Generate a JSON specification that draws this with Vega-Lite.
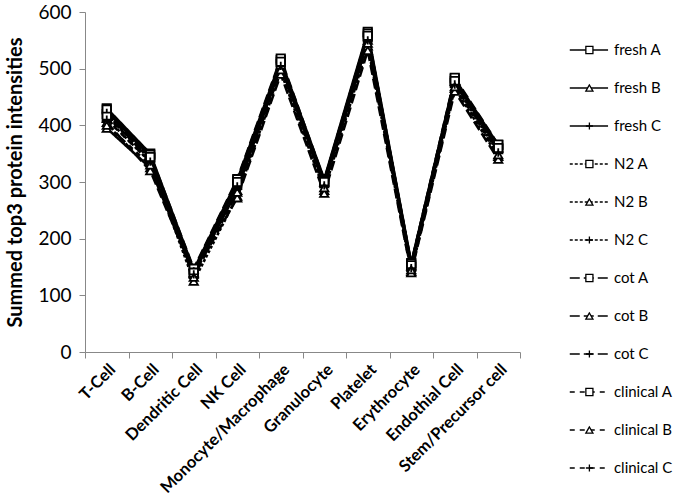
{
  "$schema": "https://vega.github.io/schema/vega-lite/v6.json",
  "padding": {"left": 5, "top": 3, "right": 0, "bottom": 0},
  "background": "white",
  "config": {"view": {"stroke": null}, "font": "Lato"},
  "spacing": 36,
  "datasets": {
    "vals": [
      {"cell":"T-Cell","series":"fresh A","value":430},{"cell":"T-Cell","series":"fresh B","value":395},{"cell":"T-Cell","series":"fresh C","value":425},{"cell":"T-Cell","series":"N2 A","value":420},{"cell":"T-Cell","series":"N2 B","value":412},{"cell":"T-Cell","series":"N2 C","value":418},{"cell":"T-Cell","series":"cot A","value":428},{"cell":"T-Cell","series":"cot B","value":405},{"cell":"T-Cell","series":"cot C","value":422},{"cell":"T-Cell","series":"clinical A","value":415},{"cell":"T-Cell","series":"clinical B","value":400},{"cell":"T-Cell","series":"clinical C","value":410},
      {"cell":"B-Cell","series":"fresh A","value":350},{"cell":"B-Cell","series":"fresh B","value":325},{"cell":"B-Cell","series":"fresh C","value":345},{"cell":"B-Cell","series":"N2 A","value":342},{"cell":"B-Cell","series":"N2 B","value":335},{"cell":"B-Cell","series":"N2 C","value":340},{"cell":"B-Cell","series":"cot A","value":348},{"cell":"B-Cell","series":"cot B","value":320},{"cell":"B-Cell","series":"cot C","value":338},{"cell":"B-Cell","series":"clinical A","value":344},{"cell":"B-Cell","series":"clinical B","value":330},{"cell":"B-Cell","series":"clinical C","value":336},
      {"cell":"Dendritic Cell","series":"fresh A","value":145},{"cell":"Dendritic Cell","series":"fresh B","value":140},{"cell":"Dendritic Cell","series":"fresh C","value":143},{"cell":"Dendritic Cell","series":"N2 A","value":138},{"cell":"Dendritic Cell","series":"N2 B","value":125},{"cell":"Dendritic Cell","series":"N2 C","value":135},{"cell":"Dendritic Cell","series":"cot A","value":147},{"cell":"Dendritic Cell","series":"cot B","value":138},{"cell":"Dendritic Cell","series":"cot C","value":142},{"cell":"Dendritic Cell","series":"clinical A","value":140},{"cell":"Dendritic Cell","series":"clinical B","value":132},{"cell":"Dendritic Cell","series":"clinical C","value":137},
      {"cell":"NK Cell","series":"fresh A","value":303},{"cell":"NK Cell","series":"fresh B","value":285},{"cell":"NK Cell","series":"fresh C","value":298},{"cell":"NK Cell","series":"N2 A","value":295},{"cell":"NK Cell","series":"N2 B","value":275},{"cell":"NK Cell","series":"N2 C","value":290},{"cell":"NK Cell","series":"cot A","value":305},{"cell":"NK Cell","series":"cot B","value":272},{"cell":"NK Cell","series":"cot C","value":296},{"cell":"NK Cell","series":"clinical A","value":300},{"cell":"NK Cell","series":"clinical B","value":282},{"cell":"NK Cell","series":"clinical C","value":292},
      {"cell":"Monocyte/Macrophage","series":"fresh A","value":515},{"cell":"Monocyte/Macrophage","series":"fresh B","value":505},{"cell":"Monocyte/Macrophage","series":"fresh C","value":512},{"cell":"Monocyte/Macrophage","series":"N2 A","value":508},{"cell":"Monocyte/Macrophage","series":"N2 B","value":495},{"cell":"Monocyte/Macrophage","series":"N2 C","value":505},{"cell":"Monocyte/Macrophage","series":"cot A","value":518},{"cell":"Monocyte/Macrophage","series":"cot B","value":490},{"cell":"Monocyte/Macrophage","series":"cot C","value":510},{"cell":"Monocyte/Macrophage","series":"clinical A","value":512},{"cell":"Monocyte/Macrophage","series":"clinical B","value":498},{"cell":"Monocyte/Macrophage","series":"clinical C","value":505},
      {"cell":"Granulocyte","series":"fresh A","value":305},{"cell":"Granulocyte","series":"fresh B","value":300},{"cell":"Granulocyte","series":"fresh C","value":302},{"cell":"Granulocyte","series":"N2 A","value":298},{"cell":"Granulocyte","series":"N2 B","value":285},{"cell":"Granulocyte","series":"N2 C","value":295},{"cell":"Granulocyte","series":"cot A","value":303},{"cell":"Granulocyte","series":"cot B","value":280},{"cell":"Granulocyte","series":"cot C","value":298},{"cell":"Granulocyte","series":"clinical A","value":300},{"cell":"Granulocyte","series":"clinical B","value":290},{"cell":"Granulocyte","series":"clinical C","value":294},
      {"cell":"Platelet","series":"fresh A","value":565},{"cell":"Platelet","series":"fresh B","value":550},{"cell":"Platelet","series":"fresh C","value":560},{"cell":"Platelet","series":"N2 A","value":555},{"cell":"Platelet","series":"N2 B","value":540},{"cell":"Platelet","series":"N2 C","value":550},{"cell":"Platelet","series":"cot A","value":562},{"cell":"Platelet","series":"cot B","value":532},{"cell":"Platelet","series":"cot C","value":555},{"cell":"Platelet","series":"clinical A","value":558},{"cell":"Platelet","series":"clinical B","value":545},{"cell":"Platelet","series":"clinical C","value":550},
      {"cell":"Erythrocyte","series":"fresh A","value":157},{"cell":"Erythrocyte","series":"fresh B","value":152},{"cell":"Erythrocyte","series":"fresh C","value":155},{"cell":"Erythrocyte","series":"N2 A","value":150},{"cell":"Erythrocyte","series":"N2 B","value":142},{"cell":"Erythrocyte","series":"N2 C","value":148},{"cell":"Erythrocyte","series":"cot A","value":156},{"cell":"Erythrocyte","series":"cot B","value":140},{"cell":"Erythrocyte","series":"cot C","value":150},{"cell":"Erythrocyte","series":"clinical A","value":153},{"cell":"Erythrocyte","series":"clinical B","value":145},{"cell":"Erythrocyte","series":"clinical C","value":148},
      {"cell":"Endothial Cell","series":"fresh A","value":482},{"cell":"Endothial Cell","series":"fresh B","value":478},{"cell":"Endothial Cell","series":"fresh C","value":480},{"cell":"Endothial Cell","series":"N2 A","value":475},{"cell":"Endothial Cell","series":"N2 B","value":465},{"cell":"Endothial Cell","series":"N2 C","value":472},{"cell":"Endothial Cell","series":"cot A","value":484},{"cell":"Endothial Cell","series":"cot B","value":460},{"cell":"Endothial Cell","series":"cot C","value":475},{"cell":"Endothial Cell","series":"clinical A","value":478},{"cell":"Endothial Cell","series":"clinical B","value":468},{"cell":"Endothial Cell","series":"clinical C","value":472},
      {"cell":"Stem/Precursor cell","series":"fresh A","value":365},{"cell":"Stem/Precursor cell","series":"fresh B","value":360},{"cell":"Stem/Precursor cell","series":"fresh C","value":363},{"cell":"Stem/Precursor cell","series":"N2 A","value":358},{"cell":"Stem/Precursor cell","series":"N2 B","value":345},{"cell":"Stem/Precursor cell","series":"N2 C","value":352},{"cell":"Stem/Precursor cell","series":"cot A","value":366},{"cell":"Stem/Precursor cell","series":"cot B","value":340},{"cell":"Stem/Precursor cell","series":"cot C","value":355},{"cell":"Stem/Precursor cell","series":"clinical A","value":360},{"cell":"Stem/Precursor cell","series":"clinical B","value":348},{"cell":"Stem/Precursor cell","series":"clinical C","value":352}
    ],
    "leg": [
      {"series":"fresh A"},{"series":"fresh B"},{"series":"fresh C"},{"series":"N2 A"},{"series":"N2 B"},{"series":"N2 C"},{"series":"cot A"},{"series":"cot B"},{"series":"cot C"},{"series":"clinical A"},{"series":"clinical B"},{"series":"clinical C"}
    ]
  },
  "hconcat": [
    {
      "width": 435,
      "height": 340,
      "data": {"name": "vals"},
      "encoding": {
        "x": {
          "field": "cell", "type": "nominal", "sort": null,
          "scale": {"type": "band", "paddingInner": 0, "paddingOuter": 0},
          "axis": {
            "title": null, "labelAngle": -45, "labelFontSize": 16.5, "labelFontWeight": "bold",
            "labelColor": "black", "tickBand": "extent", "domainColor": "#888888",
            "tickColor": "#888888", "tickSize": 6, "labelPadding": 3, "grid": false
          }
        },
        "y": {
          "field": "value", "type": "quantitative",
          "scale": {"domain": [0, 600], "nice": false},
          "axis": {
            "title": "Summed top3 protein intensities", "titleFontSize": 20, "titleFontWeight": "bold",
            "titleColor": "black", "titlePadding": 12, "values": [0,100,200,300,400,500,600],
            "labelFontSize": 19, "labelColor": "black", "labelPadding": 8,
            "domainColor": "#888888", "tickColor": "#888888", "tickSize": 6, "grid": false
          }
        }
      },
      "layer": [
        {
          "mark": {"type": "line", "color": "black", "strokeWidth": 2.6},
          "encoding": {
            "detail": {"field": "series"},
            "strokeDash": {"field": "series", "type": "nominal", "legend": null,
              "scale": {"domain": ["fresh A","fresh B","fresh C","N2 A","N2 B","N2 C","cot A","cot B","cot C","clinical A","clinical B","clinical C"],
                "range": [[1,0],[1,0],[1,0],[3,2],[3,2],[3,2],[10,4],[10,4],[10,4],[5,5],[5,5],[5,5]]}}
          }
        },
        {
          "mark": {"type": "point", "filled": true, "fill": "white", "stroke": "black", "strokeWidth": 1.8, "size": 70, "opacity": 1},
          "encoding": {
            "shape": {"field": "series", "type": "nominal", "legend": null,
              "scale": {"domain": ["fresh A","fresh B","fresh C","N2 A","N2 B","N2 C","cot A","cot B","cot C","clinical A","clinical B","clinical C"],
                "range": ["square","triangle-up","M0,-1L0,1M-1,0L1,0","square","triangle-up","M0,-1L0,1M-1,0L1,0","square","triangle-up","M0,-1L0,1M-1,0L1,0","square","triangle-up","M0,-1L0,1M-1,0L1,0"]}}
          }
        }
      ]
    },
    {
      "width": 108,
      "height": 494,
      "data": {"name": "leg"},
      "encoding": {
        "y": {"field": "series", "type": "nominal", "sort": null,
          "scale": {"type": "point", "padding": 1}, "axis": null}
      },
      "layer": [
        {
          "mark": {"type": "rule", "color": "black", "strokeWidth": 1.6},
          "encoding": {
            "x": {"datum": 13, "type": "quantitative", "scale": {"domain": [0, 108]}, "axis": null},
            "x2": {"datum": 52},
            "strokeDash": {"field": "series", "type": "nominal", "legend": null}
          }
        },
        {
          "mark": {"type": "point", "filled": true, "fill": "white", "stroke": "black", "strokeWidth": 1.3, "size": 50, "opacity": 1},
          "encoding": {
            "x": {"datum": 33, "type": "quantitative"},
            "shape": {"field": "series", "type": "nominal", "legend": null}
          }
        },
        {
          "mark": {"type": "text", "align": "left", "baseline": "middle", "fontSize": 15, "color": "black"},
          "encoding": {
            "x": {"datum": 58, "type": "quantitative"},
            "text": {"field": "series"}
          }
        }
      ]
    }
  ]
}
